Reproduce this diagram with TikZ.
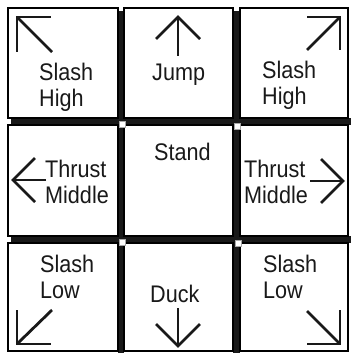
\documentclass[tikz,border=0pt]{standalone}
\usepackage{fontspec}
\setmainfont{Liberation Sans}
\newfontfamily\movefont[FakeStretch=0.9]{Liberation Sans}
\usetikzlibrary{positioning}

\begin{document}
\begin{tikzpicture}[
    x=1pt, y=-1pt,
    cellbox/.style={draw=black, fill=white, line width=1.1pt},
    gapbar/.style={fill=black!90},
    gapdot/.style={fill=white, draw=black!35, line width=0.4pt},
    movelabel/.style={font=\movefont\fontsize{24}{26.5}\selectfont, align=left, anchor=north west, inner sep=0pt, text=black!90},
    movearrow/.style={draw=black!90, line width=2.8pt, line cap=butt, line join=miter}
]
    \useasboundingbox (0,0) rectangle (351,353);

    % Barre nere tra le caselle
    \fill[gapbar] (11,118) rectangle (351,125);
    \fill[gapbar] (11,236) rectangle (351,243);
    \fill[gapbar] (118,11) rectangle (124,353);
    \fill[gapbar] (233,11) rectangle (240,353);

    % Caselle 3x3
    \foreach \xa/\xb in {8/118, 124/233, 240/348}
        \foreach \ya/\yb in {8/118, 125/236, 243/351}
            \draw[cellbox] (\xa,\ya) rectangle (\xb,\yb);

    % Quadratini bianchi agli incroci
    \foreach \xc/\yc in {119/121, 234/123, 119/239, 235/240}
        \draw[gapdot] (\xc,\yc) rectangle ++(6,6);

    % Riga alta
    \node[movelabel] (slashHL) at (39,62.5) {Slash\\High};
    \node[movelabel] (jump)    at (152,63.5) {Jump};
    \node[movelabel] (slashHR) at (262,60.5) {Slash\\High};

    \draw[movearrow] (17,52) -- (17,17) -- (51,17);
    \draw[movearrow] (17,17) -- (52,52);
    \draw[movearrow] (178,56) -- (178,18);
    \draw[movearrow] (156,39) -- (178,17) -- (200,39);
    \draw[movearrow] (307,17) -- (340,17) -- (340,50);
    \draw[movearrow] (340,17) -- (307,50);

    % Riga centrale
    \node[movelabel] (thrustL) at (45,159.5) {Thrust\\Middle};
    \node[movelabel] (stand)   at (154,143) {Stand};
    \node[movelabel] (thrustR) at (244,159.5) {Thrust\\Middle};

    \draw[movearrow] (46,180) -- (14,180);
    \draw[movearrow] (35,158) -- (13,180) -- (35,202);
    \draw[movearrow] (310,181) -- (342,181);
    \draw[movearrow] (321,159) -- (343,181) -- (321,203);

    % Riga bassa
    \node[movelabel] (slashLL) at (40,254.5) {Slash\\Low};
    \node[movelabel] (duck)    at (150,284.5) {Duck};
    \node[movelabel] (slashLR) at (263,254.5) {Slash\\Low};

    \draw[movearrow] (17,310) -- (17,344) -- (51,344);
    \draw[movearrow] (17,344) -- (52,310);
    \draw[movearrow] (178,308) -- (178,345);
    \draw[movearrow] (156,324) -- (178,346) -- (200,324);
    \draw[movearrow] (307,344) -- (340,344) -- (340,310);
    \draw[movearrow] (340,344) -- (307,311);
\end{tikzpicture}
\end{document}
